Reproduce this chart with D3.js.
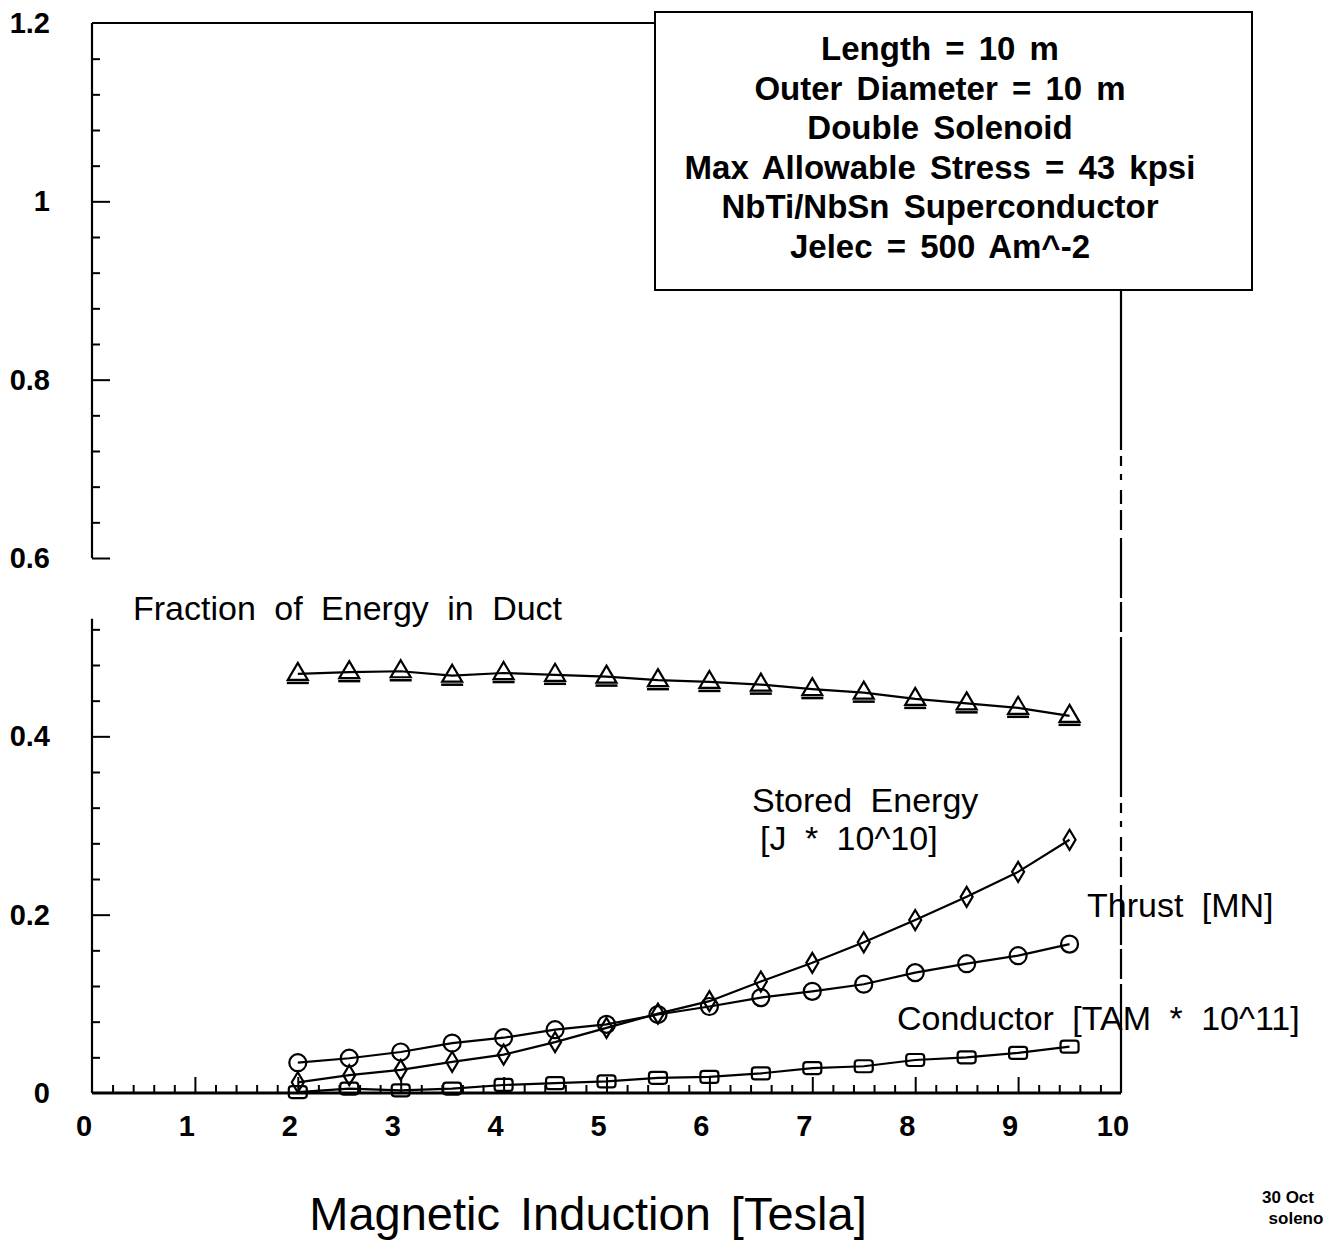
<!DOCTYPE html>
<html>
<head>
<meta charset="utf-8">
<script src="https://cdn.jsdelivr.net/npm/d3@7"></script>
<style>
  body { margin:0; background:#fff; }
  svg text { font-family: "Liberation Sans", Arial, Helvetica, sans-serif; fill:#000; }
</style>
</head>
<body>
<div id="chart"></div>
<script>
// data
var field = [2, 2.5, 3, 3.5, 4, 4.5, 5, 5.5, 6, 6.5, 7, 7.5, 8, 8.5, 9, 9.5];
var fraction  = [0.470, 0.472, 0.473, 0.468, 0.471, 0.469, 0.467, 0.463, 0.461, 0.458, 0.453, 0.449, 0.442, 0.437, 0.432, 0.423];
var stored    = [0.012, 0.020, 0.026, 0.035, 0.043, 0.057, 0.073, 0.089, 0.103, 0.125, 0.146, 0.169, 0.194, 0.220, 0.248, 0.284];
var thrust    = [0.034, 0.039, 0.046, 0.056, 0.062, 0.071, 0.077, 0.088, 0.097, 0.107, 0.114, 0.122, 0.135, 0.145, 0.154, 0.167];
var conductor = [0.001, 0.005, 0.003, 0.005, 0.009, 0.011, 0.013, 0.017, 0.018, 0.022, 0.028, 0.030, 0.037, 0.040, 0.045, 0.052];

var xTicks = [0,1,2,3,4,5,6,7,8,9,10];
var yTicks = [0, 0.2, 0.4, 0.6, 0.8, 1, 1.2];
var yTickLabels = ["0", "0.2", "0.4", "0.6", "0.8", "1", "1.2"];
var boxLines = ["Length = 10 m", "Outer Diameter = 10 m", "Double Solenoid",
                "Max Allowable Stress = 43 kpsi", "NbTi/NbSn Superconductor", "Jelec = 500 Am^-2"];

var W = 1337, H = 1240;
var svg = d3.select("#chart").append("svg").attr("width", W).attr("height", H);

var x = d3.scaleLinear().domain([0, 10]).range([92, 1121]);
var y = d3.scaleLinear().domain([0, 1.2]).range([1093, 23]);

// ---- axes ----
var minorX = d3.range(0, 10.01, 0.2).filter(function(v){ return Math.abs(v - Math.round(v)) > 0.01; });
svg.append("g").attr("transform", "translate(0," + y(0) + ")")
   .call(d3.axisBottom(x).tickValues(minorX).tickSize(-8).tickFormat(""))
   .call(function(g){ g.select(".domain").remove(); g.selectAll("line").attr("stroke-width", 2); });
svg.append("g").attr("transform", "translate(0," + y(0) + ")")
   .call(d3.axisBottom(x).tickValues(xTicks.slice(1, 10)).tickSize(-16).tickFormat(""))
   .call(function(g){ g.select(".domain").remove(); g.selectAll("line").attr("stroke-width", 2); });

var minorY = d3.range(0, 1.201, 0.04).filter(function(v){
  var r = v / 0.2; return Math.abs(r - Math.round(r)) > 0.01 && Math.abs(v - 0.56) > 0.01;
});
svg.append("g").attr("transform", "translate(" + x(0) + ",0)")
   .call(d3.axisLeft(y).tickValues(minorY).tickSize(-8).tickFormat(""))
   .call(function(g){ g.select(".domain").remove(); g.selectAll("line").attr("stroke-width", 2); });
svg.append("g").attr("transform", "translate(" + x(0) + ",0)")
   .call(d3.axisLeft(y).tickValues(yTicks.slice(1, 6)).tickSize(-18).tickFormat(""))
   .call(function(g){ g.select(".domain").remove(); g.selectAll("line").attr("stroke-width", 2); });

// frame lines
var frame = svg.append("g").attr("stroke", "#000").attr("stroke-width", 2.2).attr("fill", "none");
frame.append("line").attr("x1", x(0)).attr("x2", x(10)).attr("y1", y(0)).attr("y2", y(0)).attr("stroke-width", 3);
frame.append("line").attr("x1", x(0)).attr("x2", x(0)).attr("y1", y(0)).attr("y2", y(0.532));
frame.append("line").attr("x1", x(0)).attr("x2", x(0)).attr("y1", y(0.6)).attr("y2", y(1.2));
frame.append("line").attr("x1", x(0)).attr("x2", 655).attr("y1", y(1.2)).attr("y2", y(1.2));
frame.append("line").attr("x1", x(10)).attr("x2", x(10)).attr("y1", 290).attr("y2", y(0))
     .attr("stroke-dasharray", "160 6 10 8 6 10 14 6 20 8 60 4 30 5");

// tick labels
svg.append("g").selectAll("text").data(xTicks).enter().append("text")
   .attr("x", function(d){ return x(d) - 8; }).attr("y", 1136)
   .attr("text-anchor", "middle").attr("font-size", 29).attr("font-weight", "bold")
   .text(function(d){ return d; });
svg.append("g").selectAll("text").data(yTicks).enter().append("text")
   .attr("x", 50).attr("y", function(d){ return y(d) + 10; })
   .attr("text-anchor", "end").attr("font-size", 29).attr("font-weight", "bold")
   .text(function(d, i){ return yTickLabels[i]; });

// ---- series ----
var line = d3.line().x(function(d){ return x(d[0]); }).y(function(d){ return y(d[1]); });
function pairs(vals){ return field.map(function(f, i){ return [f, vals[i]]; }); }

var series = [
  {vals: fraction,  shape: "tri"},
  {vals: stored,    shape: "dia"},
  {vals: thrust,    shape: "circ"},
  {vals: conductor, shape: "sq"}
];

series.forEach(function(s){
  svg.append("path").datum(pairs(s.vals)).attr("d", line)
     .attr("fill", "none").attr("stroke", "#000").attr("stroke-width", 2.2);
  var g = svg.append("g").attr("fill", "none").attr("stroke", "#000").attr("stroke-width", 2.2);
  var pts = g.selectAll("g").data(pairs(s.vals)).enter().append("g")
     .attr("transform", function(d){ return "translate(" + x(d[0]) + "," + y(d[1]) + ")"; });
  if (s.shape === "circ") {
    pts.append("circle").attr("r", 8.5);
  } else if (s.shape === "tri") {
    pts.append("path").attr("d", "M0,-11L10,6L-10,6Z");
    pts.append("line").attr("x1", -11).attr("x2", 11).attr("y1", 9).attr("y2", 9).attr("stroke-width", 2.5);
  } else if (s.shape === "dia") {
    pts.append("path").attr("d", "M0,-10L6,0L0,10L-6,0Z");
  } else {
    pts.append("rect").attr("x", -9).attr("y", -6).attr("width", 18).attr("height", 12).attr("rx", 3);
  }
});

// ---- series labels ----
var labels = [
  {t: "Fraction of Energy in Duct", x: 133, y: 620},
  {t: "Stored Energy", x: 752, y: 812},
  {t: "[J * 10^10]", x: 760, y: 850},
  {t: "Thrust [MN]", x: 1087, y: 917},
  {t: "Conductor [TAM * 10^11]", x: 897, y: 1030}
];
svg.append("g").selectAll("text").data(labels).enter().append("text")
   .attr("x", function(d){ return d.x; }).attr("y", function(d){ return d.y; })
   .attr("font-size", 34).attr("word-spacing", 9)
   .text(function(d){ return d.t; });

// ---- parameter box ----
svg.append("rect").attr("x", 655).attr("y", 12).attr("width", 597).attr("height", 278)
   .attr("fill", "#fff").attr("stroke", "#000").attr("stroke-width", 2);
svg.append("g").selectAll("text").data(boxLines).enter().append("text")
   .attr("x", 940).attr("y", function(d, i){ return 60 + i * 39.5; })
   .attr("text-anchor", "middle").attr("font-size", 33).attr("font-weight", "bold")
   .attr("word-spacing", 5)
   .text(function(d){ return d; });

// axis title and footnote
svg.append("text").attr("x", 588).attr("y", 1230).attr("text-anchor", "middle")
   .attr("font-size", 47).attr("word-spacing", 7).text("Magnetic Induction [Tesla]");
svg.append("text").attr("x", 1288).attr("y", 1203).attr("text-anchor", "middle")
   .attr("font-size", 17).attr("font-weight", "bold").text("30 Oct");
svg.append("text").attr("x", 1296).attr("y", 1224).attr("text-anchor", "middle")
   .attr("font-size", 17).attr("font-weight", "bold").text("soleno");
</script>
</body>
</html>
